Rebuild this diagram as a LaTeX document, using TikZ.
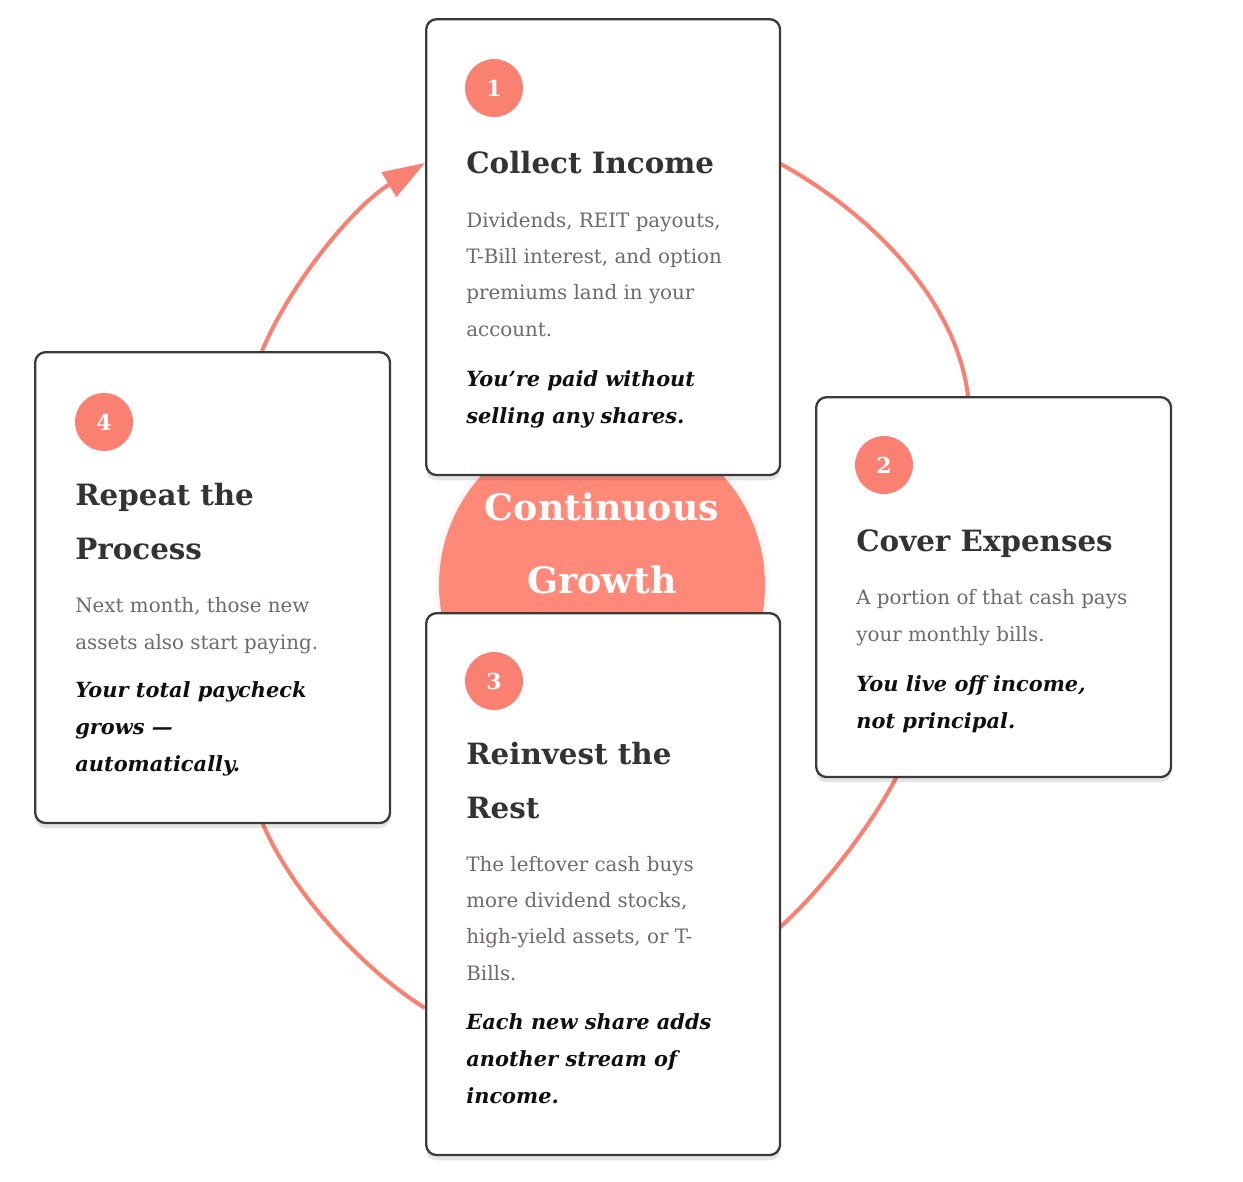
\documentclass[tikz,border=0pt]{standalone}
\usepackage{fontspec}
\setmainfont{DejaVu Serif}
\usepackage{tikz}
\usetikzlibrary{arrows.meta,positioning,shadows,calc}

\definecolor{coral}{RGB}{250,128,114}
\definecolor{corallt}{RGB}{255,137,121}
\definecolor{edgec}{RGB}{58,58,58}
\definecolor{headc}{RGB}{51,51,51}
\definecolor{bodyc}{RGB}{112,106,100}
\definecolor{notec}{RGB}{15,15,15}

\begin{document}
\begin{tikzpicture}[
  x=0.02cm, y=-0.02cm,
  card/.style={draw=edgec, line width=1.3pt, fill=white, rounded corners=6pt,
               anchor=north west, inner sep=0pt,
               drop shadow={shadow xshift=0pt, shadow yshift=-3pt, opacity=0.10, fill=black}},
  num/.style={circle, fill=coral, minimum size=1.16cm, inner sep=0pt,
              text=white, font=\bfseries\fontsize{12.5}{14}\selectfont},
  ttl/.style={anchor=base west, inner sep=0pt, align=left, text=headc,
              font=\bfseries\fontsize{16.7}{30.2}\selectfont},
  body/.style={anchor=base west, inner sep=0pt, align=left, text=bodyc,
               font=\fontsize{11.3}{20.6}\selectfont},
  note/.style={anchor=base west, inner sep=0pt, align=left, text=notec,
               font=\bfseries\itshape\fontsize{11.9}{21}\selectfont},
  ring/.style={draw=coral, line width=2.3pt},
]
\useasboundingbox (0,0) rectangle (1243,1181);

% ---- Ring segments ---------------------------------------------------------
\coordinate (r1a) at (779,163);
\coordinate (r1b) at (968,396);
\coordinate (r2a) at (897,776);
\coordinate (r2b) at (779,928);
\coordinate (r3a) at (425,1008);
\coordinate (r3b) at (262,822);
\coordinate (r4a) at (262,351);
\coordinate (r4b) at (425,163);
\draw[ring] (r1a) .. controls (867,211) and (956,297) .. (r1b);
\draw[ring] (r2a) .. controls (872,825) and (820,892) .. (r2b);
\draw[ring] (r3a) .. controls (361,968) and (291,891) .. (r3b);
\draw[ring, -{Triangle[length=24pt, width=16pt]}]
  (r4a) .. controls (291,282) and (355,205) .. (r4b);

% ---- Centre hub ------------------------------------------------------------
\node[circle, fill=coral!12, opacity=0.5, minimum size=6.7cm] (glow) at (602,585) {};
\node[circle, fill=corallt, minimum size=6.52cm] (hub) at (602,585) {};
% base anchor sits on the last line
\node[anchor=base, align=center, text=white,
      font=\bfseries\fontsize{20.7}{41.4}\selectfont] (hubtxt) at (602,593)
  {Continuous\\Growth};

% ---- Cards -----------------------------------------------------------------
\node[card, minimum width=7.08cm, minimum height=9.12cm]  (b1) at (425,18) {};
\node[card, minimum width=7.10cm, minimum height=7.60cm]  (b2) at (815,396) {};
\node[card, minimum width=7.08cm, minimum height=10.84cm] (b3) at (425,612) {};
\node[card, minimum width=7.10cm, minimum height=9.42cm]  (b4) at (34,351) {};

% ---- Card 1 ----------------------------------------------------------------
\node[num] (n1) at (494,88) {1};
\node[ttl] (t1) at (466,173) {Collect Income};
\node[body] (d1) at (466,336)
  {Dividends, REIT payouts,\\T-Bill interest, and option\\premiums land in your\\account.};
\node[note] (s1) at (466,423) {You're paid without\\selling any shares.};

% ---- Card 2 ----------------------------------------------------------------
\node[num] (n2) at (884,465) {2};
\node[ttl] (t2) at (856,551) {Cover Expenses};
\node[body] (d2) at (856,641) {A portion of that cash pays\\your monthly bills.};
\node[note] (s2) at (856,728) {You live off income,\\not principal.};

% ---- Card 3 ----------------------------------------------------------------
\node[num] (n3) at (494,681) {3};
\node[ttl] (t3) at (466,818) {Reinvest the\\Rest};
\node[body] (d3) at (466,980)
  {The leftover cash buys\\more dividend stocks,\\high-yield assets, or T-\\Bills.};
\node[note] (s3) at (466,1103) {Each new share adds\\another stream of\\income.};

% ---- Card 4 ----------------------------------------------------------------
\node[num] (n4) at (104,422) {4};
\node[ttl] (t4) at (75,559) {Repeat the\\Process};
\node[body] (d4) at (75,649) {Next month, those new\\assets also start paying.};
\node[note] (s4) at (75,771) {Your total paycheck\\grows ---\\automatically.};

\end{tikzpicture}
\end{document}
